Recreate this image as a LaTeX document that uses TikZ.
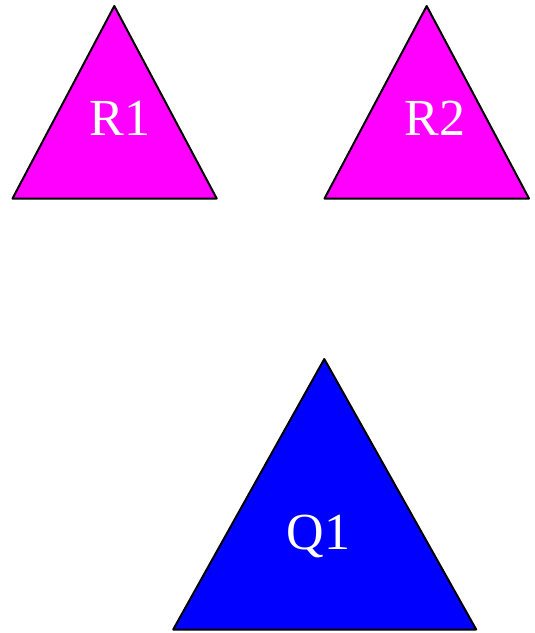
\documentclass[tikz,border=0pt]{standalone}
\usepackage{fontspec}
\setmainfont{Liberation Serif}
\usepackage{xcolor}
\definecolor{clrRtr}{HTML}{FF00FF}
\definecolor{clrQtr}{HTML}{0000FF}

\begin{document}
\begin{tikzpicture}[
  x=1pt, y=-1pt,
  tri/.style = {
    draw=black, line width=2pt, line join=round
  },
  lbl/.style = {
    text=white, anchor=base, inner sep=0pt,
    font=\fontsize{52}{60}\selectfont
  }
]
  \useasboundingbox (0,0) rectangle (535,633);

  \draw[tri, fill=clrRtr] (114.3,6)   -- (216.7,198.5) -- (12.5,198.5) -- cycle;
  \draw[tri, fill=clrRtr] (426.7,6)   -- (529,198.5)   -- (324.5,198.5) -- cycle;
  \draw[tri, fill=clrQtr] (324.3,359) -- (476.2,629.5) -- (173.2,629.5) -- cycle;

  \node[lbl] (r1) at (119.7,135) {R1};
  \node[lbl] (r2) at (434.7,135) {R2};
  \node[lbl] (q1) at (318.5,549) {Q1};
\end{tikzpicture}
\end{document}
